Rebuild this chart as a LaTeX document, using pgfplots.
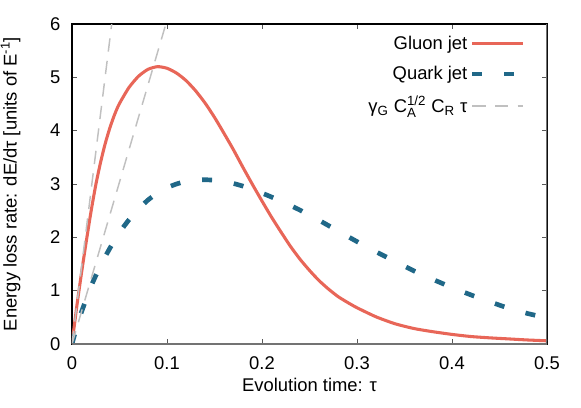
\documentclass[border=0pt]{standalone}
\usepackage{fontspec}
\setmainfont{Liberation Sans}
\usepackage{pgfplots}
\pgfplotsset{compat=1.18}
\definecolor{gluon}{RGB}{232,102,88}
\definecolor{quark}{RGB}{32,104,136}
\definecolor{lgray}{RGB}{192,192,192}
\newcommand\sm[1]{\hbox{\fontsize{10}{10}\selectfont #1}}
\begin{document}
\fontsize{13.8}{16}\selectfont
\begin{tikzpicture}
\begin{axis}[
  scale only axis, width=356.25pt, height=240pt,
  at={(0,0)}, anchor=south west,
  xmin=0, xmax=0.5, ymin=0, ymax=6,
  xtick={0,0.1,0.2,0.3,0.4,0.5},
  ytick={0,1,2,3,4,5,6},
  xticklabels={0,0.1,0.2,0.3,0.4,0.5},
  tick align=inside, major tick length=4pt,
  tick style={black!65, line width=0.6pt},
  axis line style={black, line width=0.8pt},
  /pgf/number format/assume math mode=true,
  ticklabel style={font=\fontsize{13.8}{16}\selectfont},
  yticklabel style={xshift=-4pt},
  xticklabel style={yshift=-5pt},
  every axis x label/.style={at={(axis description cs:0.5,0)}, yshift=-31pt, anchor=center},
  every axis y label/.style={at={(axis description cs:0,0.5)}, xshift=-46pt, rotate=90, anchor=center},
  xlabel={Evolution time: τ},
  ylabel={Energy loss rate: dE/dτ [units of E\textsuperscript{-1}]},
  legend plot pos=right,
  legend cell align=right,
  legend style={draw=none, fill=none, at={(axis description cs:0.955,0.972)}, anchor=north east,
     row sep=6.5pt, inner sep=0pt, font=\fontsize{13.8}{16}\selectfont},
  legend image code/.code={\draw[#1] (0pt,0pt) -- (38pt,0pt);},
  clip=true,
]
\addplot[color=gluon, line width=2.3pt, smooth, tension=0.4] coordinates {
(0,0) (0.005,0.70) (0.01,1.33) (0.015,1.92) (0.02,2.48) (0.025,2.98) (0.03,3.40)
(0.035,3.76) (0.04,4.06) (0.045,4.31) (0.05,4.51) (0.06,4.81) (0.07,5.02) (0.08,5.15)
(0.09,5.20) (0.10,5.17) (0.11,5.08) (0.12,4.94) (0.13,4.75) (0.14,4.52) (0.15,4.25)
(0.16,3.95) (0.17,3.64) (0.18,3.31) (0.19,2.99) (0.20,2.68) (0.21,2.38) (0.22,2.10)
(0.23,1.83) (0.24,1.59) (0.25,1.38) (0.26,1.19) (0.27,1.03) (0.28,0.89) (0.29,0.78)
(0.30,0.68) (0.32,0.51) (0.34,0.38) (0.36,0.29) (0.38,0.23) (0.40,0.18) (0.42,0.14)
(0.44,0.115) (0.46,0.095) (0.48,0.075) (0.50,0.06)
};
\addlegendentry{Gluon jet}
\addplot[color=quark, line width=3.5pt, dash pattern=on 7.5pt off 16.5pt, smooth, tension=0.4] coordinates {
(0,0) (0.005,0.32) (0.01,0.60) (0.02,1.08) (0.03,1.47) (0.04,1.80) (0.05,2.09)
(0.06,2.33) (0.07,2.53) (0.08,2.70) (0.09,2.83) (0.10,2.93) (0.11,3.00) (0.12,3.05)
(0.13,3.07) (0.14,3.08) (0.15,3.07) (0.16,3.05) (0.17,3.01) (0.18,2.96) (0.19,2.90)
(0.20,2.83) (0.22,2.68) (0.24,2.51) (0.26,2.32) (0.28,2.12) (0.30,1.92) (0.32,1.73)
(0.34,1.55) (0.36,1.37) (0.38,1.21) (0.40,1.06) (0.42,0.92) (0.44,0.79) (0.46,0.67)
(0.48,0.57) (0.50,0.49)
};
\addlegendentry{Quark jet}
\addplot[color=lgray, line width=1.1pt, dash pattern=on 10pt off 7pt] coordinates {(0,0) (0.0418,6)};
\addlegendentry{γ$_{\sm{G}}$ C$^{\sm{1/2}}_{\sm{A}}$ C$_{\sm{R}}$ τ}
\addplot[color=lgray, line width=1.1pt, dash pattern=on 10pt off 7pt, forget plot] coordinates {(0,0) (0.0988,6)};
\draw[black!55, line width=0.8pt] (rel axis cs:0,0) -- (rel axis cs:1,0) -- (rel axis cs:1,1);
\end{axis}
\pgfresetboundingbox
\path (-54pt,-47.25pt) rectangle (381.75pt,258pt);
\end{tikzpicture}
\end{document}
